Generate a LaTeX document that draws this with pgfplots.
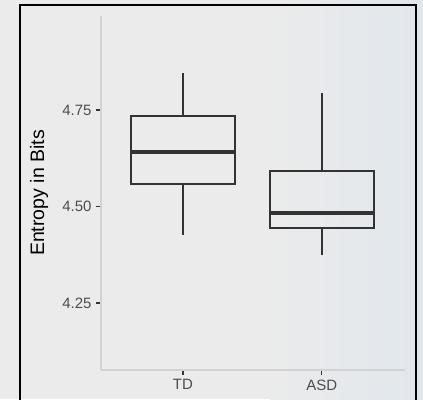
\documentclass[border=0pt]{standalone}
\usepackage{pgfplots}
\pgfplotsset{compat=1.18}
\usepgfplotslibrary{statistics}
\usepackage{fontspec}
\setmainfont{Liberation Sans}
\definecolor{bgA}{HTML}{EBEBEB}
\definecolor{bgB}{HTML}{E1E7ED}
\definecolor{boxc}{HTML}{333333}
\definecolor{tickc}{HTML}{4D4D4D}
\definecolor{axc}{HTML}{D2D2D2}
\begin{document}
\begin{tikzpicture}[x=1pt,y=1pt]
\useasboundingbox (0,0) rectangle (423,399);
\fill[bgA] (0,0) rectangle (423,399);
\shade[left color=bgA,right color=bgB] (270,0) rectangle (423,399);
\draw[black,line width=1.6pt] (20,-2) -- (20,394) -- (416,394) -- (416,-2);
\begin{axis}[
  at={(101pt,29pt)}, anchor=origin,
  scale only axis, width=304pt, height=354pt,
  xmin=0.41, xmax=2.6, ymin=4.076, ymax=4.9935,
  axis x line*=bottom, axis y line*=left,
  axis line style={axc,line width=1.2pt,-},
  xtick={1,2}, xticklabels={TD,ASD},
  ytick={4.25,4.5,4.75},
  yticklabels={4.25,4.50,4.75},
  tick align=outside, major tick length=5pt,
  tick style={boxc,line width=1.3pt},
  ticklabel style={text=tickc,font=\fontsize{15}{17}\selectfont},
  yticklabel style={xshift=-1pt},
  xticklabel style={yshift=-1pt},
  /pgf/number format/assume math mode=true,
  boxplot/draw direction=y,
  boxplot/box extend=0.75,
  boxplot/whisker extend=0,
  boxplot/every median/.style={line width=3.8pt},
  clip=false,
]
\addplot+[boxplot prepared={lower whisker=4.427, lower quartile=4.558, median=4.641, upper quartile=4.734, upper whisker=4.846, draw position=1}, draw=boxc, line width=1.7pt, fill=none, solid, mark=none] coordinates {};
\addplot+[boxplot prepared={lower whisker=4.373, lower quartile=4.444, median=4.482, upper quartile=4.592, upper whisker=4.794, draw position=2}, draw=boxc, line width=1.7pt, fill=none, solid, mark=none] coordinates {};
\end{axis}
\node[rotate=90,text=black,font=\fontsize{19.5}{22}\selectfont] at (39,206) {Entropy in Bits};
\end{tikzpicture}
\end{document}
